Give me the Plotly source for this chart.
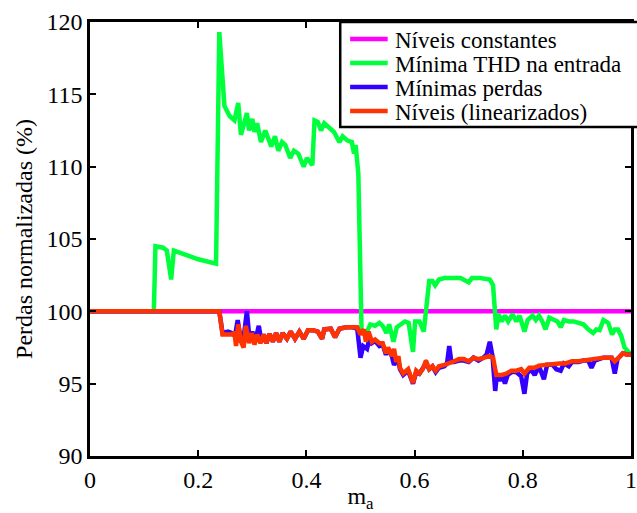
import plotly.graph_objects as go

# ---------------- data ----------------
const_x = [0.0, 1.0]
const_y = [100.0, 100.0]

thd_x = [0, 0.118, 0.121, 0.135, 0.142, 0.150, 0.155, 0.175, 0.200, 0.233, 0.239, 0.2485, 0.258, 0.267, 0.274,
         0.279, 0.290, 0.294, 0.300, 0.304, 0.309, 0.316, 0.324, 0.335, 0.342, 0.348, 0.355, 0.361, 0.370, 0.377,
         0.385, 0.395, 0.401, 0.411, 0.415, 0.421, 0.427, 0.433, 0.444, 0.451, 0.461, 0.467, 0.476, 0.484, 0.488,
         0.491, 0.496, 0.502, 0.512, 0.518, 0.527, 0.535, 0.541, 0.548, 0.553, 0.561, 0.567, 0.576, 0.582, 0.589,
         0.597, 0.601, 0.609, 0.617, 0.623, 0.627, 0.633, 0.638, 0.645, 0.655, 0.673, 0.685, 0.700, 0.706, 0.721,
         0.739, 0.745, 0.749, 0.751, 0.755, 0.761, 0.767, 0.773, 0.781, 0.788, 0.794, 0.803, 0.809, 0.818, 0.824,
         0.830, 0.836, 0.842, 0.849, 0.856, 0.864, 0.870, 0.876, 0.885, 0.894, 0.903, 0.912, 0.921, 0.930, 0.936,
         0.942, 0.949, 0.958, 0.965, 0.970, 0.976, 0.982, 0.988, 0.993, 1.0]
thd_y = [100, 100, 104.5, 104.4, 104.2, 102.2, 104.2, 103.9, 103.6, 103.3, 119.3, 114.2, 113.5, 113.2, 114.4,
         112.2, 113.7, 112.5, 113.3, 112.4, 113.0, 111.7, 112.5, 111.4, 112.1, 111.1, 111.7, 111.5, 110.6, 111.1,
         110.9, 110.0, 110.6, 110.1, 113.2, 113.1, 112.5, 113.0, 112.6, 112.4, 111.7, 112.1, 111.8, 111.7, 110.9,
         111.5, 109.5, 98.6, 98.6, 99.1, 99.0, 99.2, 99.0, 98.5, 99.1, 97.9, 98.9, 99.2, 99.3, 99.2,
         97.2, 99.3, 99.3, 98.6, 100.8, 102.1, 102.1, 101.8, 102.2, 102.3, 102.3, 102.3, 102.0, 102.3, 102.3,
         102.2, 101.8, 100.1, 98.75, 99.8, 99.3, 99.7, 99.3, 99.8, 99.3, 99.7, 98.6, 99.4, 99.7, 99.4,
         99.7, 99.3, 98.75, 99.56, 99.4, 99.3, 98.9, 99.4, 99.3, 99.3, 99.2, 99.1, 98.75, 98.5, 98.75,
         98.7, 99.4, 99.2, 98.4, 98.75, 98.75, 98.3, 97.5, 97.3, 97.0]

minp_x = [0, 0.239, 0.245, 0.255, 0.262, 0.268, 0.273, 0.278, 0.283, 0.290, 0.295, 0.300, 0.305, 0.312, 0.317,
          0.321, 0.326, 0.332, 0.338, 0.344, 0.350, 0.356, 0.364, 0.371, 0.379, 0.387, 0.395, 0.403, 0.412, 0.421,
          0.429, 0.433, 0.445, 0.453, 0.461, 0.473, 0.485, 0.494, 0.500, 0.505, 0.512, 0.517, 0.521, 0.527, 0.535,
          0.541, 0.547, 0.551, 0.558, 0.562, 0.569, 0.573, 0.579, 0.588, 0.597, 0.603, 0.609, 0.615, 0.621, 0.627,
          0.633, 0.639, 0.645, 0.655, 0.660, 0.664, 0.668, 0.673, 0.682, 0.691, 0.700, 0.709, 0.718, 0.727, 0.733,
          0.739, 0.744, 0.749, 0.752, 0.757, 0.762, 0.767, 0.772, 0.779, 0.788, 0.797, 0.803, 0.808, 0.815, 0.822,
          0.830, 0.839, 0.845, 0.855, 0.862, 0.870, 0.876, 0.885, 0.891, 0.903, 0.912, 0.921, 0.927, 0.933, 0.949,
          0.964, 0.970, 0.975, 0.985, 0.994, 1.0]
minp_y = [100, 100, 98.5, 98.6, 98.5, 98.3, 99.4, 98.2, 97.9, 100.0, 98.0, 98.6, 97.9, 99.0, 97.9,
          98.4, 97.8, 98.45, 97.9, 98.5, 97.9, 98.5, 98.1, 98.6, 98.1, 98.6, 98.1, 98.7, 98.7, 98.6,
          98.1, 98.75, 98.8, 98.2, 98.8, 98.9, 98.9, 98.8, 96.8, 97.6, 97.4, 98.2, 97.8, 97.95, 97.6,
          97.7, 97.0, 97.4, 96.9, 96.3, 96.8, 96.0, 95.6, 95.9, 95.0, 95.8, 95.7, 96.0, 96.4, 96.0,
          96.2, 95.8, 96.1, 96.2, 96.4, 97.6, 96.5, 96.5, 96.6, 96.6, 96.5, 96.8, 96.6, 96.8, 97.0,
          97.9, 96.9, 94.5, 95.6, 95.2, 95.6, 95.0, 95.6, 95.8, 95.8, 95.5, 94.3, 95.7, 96.0, 95.6,
          96.2, 95.3, 96.3, 96.3, 96.0, 95.9, 96.4, 96.2, 96.5, 96.5, 96.6, 96.6, 96.1, 96.6, 96.8,
          96.8, 95.7, 96.7, 97.1, 97.0, 97.0]

lin_x = [0, 0.239, 0.245, 0.261, 0.267, 0.270, 0.274, 0.279, 0.284, 0.288, 0.294, 0.299, 0.304, 0.309, 0.315,
         0.321, 0.326, 0.332, 0.338, 0.344, 0.350, 0.356, 0.364, 0.371, 0.379, 0.387, 0.395, 0.403, 0.412, 0.421,
         0.429, 0.433, 0.445, 0.453, 0.461, 0.473, 0.485, 0.494, 0.500, 0.506, 0.510, 0.515, 0.521, 0.527, 0.535,
         0.541, 0.547, 0.551, 0.558, 0.562, 0.566, 0.570, 0.573, 0.579, 0.588, 0.597, 0.603, 0.609, 0.615, 0.621,
         0.627, 0.633, 0.639, 0.645, 0.655, 0.664, 0.673, 0.682, 0.691, 0.700, 0.709, 0.718, 0.727, 0.739, 0.745,
         0.751, 0.761, 0.770, 0.779, 0.788, 0.797, 0.803, 0.812, 0.821, 0.830, 0.842, 0.855, 0.867, 0.879, 0.891,
         0.903, 0.912, 0.921, 0.930, 0.939, 0.949, 0.964, 0.970, 0.979, 0.985, 0.994, 1.0]
lin_y = [100, 100, 98.4, 98.4, 98.5, 97.6, 99.1, 97.9, 97.5, 99.0, 97.8, 98.5, 97.7, 98.4, 97.8,
         98.4, 97.8, 98.45, 97.9, 98.5, 97.9, 98.5, 98.1, 98.6, 98.1, 98.6, 98.1, 98.7, 98.7, 98.6,
         98.1, 98.75, 98.8, 98.2, 98.8, 98.9, 98.9, 98.9, 98.4, 98.75, 97.9, 98.6, 97.9, 98.05, 97.8,
         97.8, 97.1, 97.5, 96.9, 97.4, 96.5, 96.9, 96.1, 95.7, 96.0, 95.05, 95.9, 95.7, 96.0, 96.6,
         96.0, 96.2, 95.9, 96.2, 96.3, 96.4, 96.55, 96.7, 96.7, 96.55, 96.8, 96.7, 96.8, 96.9, 96.8,
         95.6, 95.6, 95.7, 95.9, 95.9, 96.0, 95.7, 96.1, 96.1, 96.25, 96.3, 96.4, 96.4, 96.4, 96.55,
         96.55, 96.6, 96.7, 96.7, 96.8, 96.8, 96.8, 96.55, 96.85, 97.1, 97.0, 97.0]

names = ["Níveis constantes", "Mínima THD na entrada", "Mínimas perdas", "Níveis (linearizados)"]
colors = ["#ff00ff", "#00ff3c", "#3300ff", "#ff3300"]
x_ticks = [0, 0.2, 0.4, 0.6, 0.8, 1]
y_ticks = [90, 95, 100, 105, 110, 115, 120]

FONT = "Times New Roman, Liberation Serif, DejaVu Serif, serif"

fig = go.Figure()
series = [(const_x, const_y), (thd_x, thd_y), (minp_x, minp_y), (lin_x, lin_y)]
for (xs, ys), nm, col in zip(series, names, colors):
    fig.add_trace(go.Scatter(x=xs, y=ys, mode="lines", name=nm,
                             line=dict(color=col, width=4.5), showlegend=False))

# ---------------- manual legend (box, keys, text) ----------------
W, H = 637, 513
L, R, T, B = 90, 0, 22, 57
pw, ph = W - L - R, H - T - B

def px_x(p):
    return (p - L) / pw

def px_y(p):
    return (H - B - p) / ph

fig.add_shape(type="rect", xref="paper", yref="paper",
              x0=px_x(343), x1=px_x(645), y0=px_y(127), y1=px_y(22),
              line=dict(color="black", width=2.5), fillcolor="white", layer="above")
rows = [39, 63, 87, 111]
for r, nm, col in zip(rows, names, colors):
    fig.add_shape(type="line", xref="paper", yref="paper",
                  x0=px_x(353), x1=px_x(391), y0=px_y(r), y1=px_y(r),
                  line=dict(color=col, width=4.5), layer="above")
    fig.add_annotation(xref="paper", yref="paper", x=px_x(396), y=px_y(r + 1),
                       text=nm, showarrow=False, xanchor="left", yanchor="middle",
                       font=dict(family=FONT, size=23, color="black"))

axis_common = dict(showline=True, linecolor="black", linewidth=2.5, mirror="ticks",
                   ticks="inside", ticklen=6, tickwidth=1.5, tickcolor="black",
                   showgrid=False, zeroline=False,
                   tickfont=dict(family=FONT, size=24, color="black"))

fig.update_layout(
    width=W, height=H,
    margin=dict(l=L, r=R, t=T, b=B, pad=0),
    paper_bgcolor="white", plot_bgcolor="white",
    showlegend=False,
    font=dict(family=FONT, size=24, color="black"),
    xaxis=dict(range=[0, 1], tickvals=x_ticks, ticktext=[str(v) for v in x_ticks],
               ticklabeloverflow="allow",
               title=dict(text="m<sub>a</sub>", font=dict(family=FONT, size=24, color="black"), standoff=0),
               **axis_common),
    yaxis=dict(range=[90, 120], tickvals=y_ticks,
               title=dict(text="Perdas normalizadas (%)", font=dict(family=FONT, size=24, color="black"),
                          standoff=8),
               **axis_common),
)

fig.write_html("out.html")
